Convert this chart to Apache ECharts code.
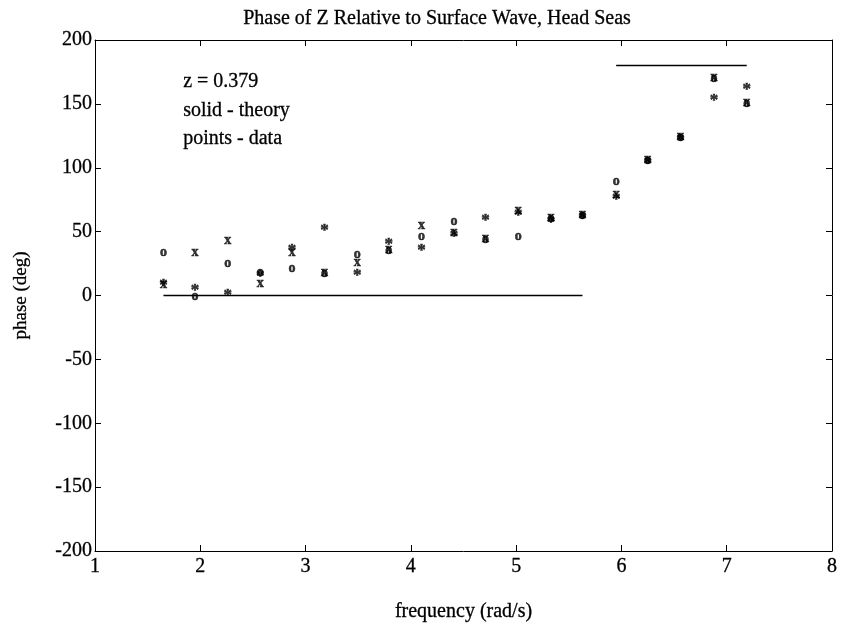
<!DOCTYPE html>
<html>
<head>
<meta charset="utf-8">
<script src="https://cdn.jsdelivr.net/npm/echarts@6/dist/echarts.min.js"></script>
<style>
html, body { margin: 0; padding: 0; background: #fff; }
#chart { width: 842px; height: 631px; }
</style>
</head>
<body>
<div id="chart"></div>
<script>
// frequencies of the test runs (rad/s)
const freq = [1.65, 1.95, 2.26, 2.57, 2.87, 3.18, 3.49, 3.79, 4.10, 4.41, 4.71, 5.02, 5.33, 5.63, 5.95, 6.25, 6.56, 6.88, 7.19]
// measured phase, three runs, marked o, x and *
const phaseO = [34, -1, 25, 18, 21, 17, 32, 35, 46, 58, 44, 46, 60, 63, 89, 106, 124, 170, 150]
const phaseX = [8, 33, 42, 9, 33, 17, 25, 35, 54, 49, 44, 66, 60, 63, 78, 106, 124, 170, 150]
const phaseS = [11, 7, 3, 18, 38, 54, 19, 43, 38, 49, 62, 66, 60, 63, 78, 106, 124, 156, 164]
// theory
const theory = [0, 0, 0, 0, 0, 0, 0, 0, 0, 0, 0, 0, 0, 0, 180, 180, 180, 180, 180]
const xTicks = [1, 2, 3, 4, 5, 6, 7, 8]
const yTicks = [-200, -150, -100, -50, 0, 50, 100, 150, 200]

const font = "Liberation Serif"
const ink = { color: "#000", textBorderColor: "#000", textBorderWidth: 0.3 }

// split the theory curve where it jumps, no vertical line in the plot
let theoryLine = []
for (let i = 0; i < freq.length; i++) {
    if (i > 0 && Math.abs(theory[i] - theory[i - 1]) > 90) theoryLine.push([freq[i], null])
    theoryLine.push([freq[i], theory[i]])
}

function marks(name, vals, ch, dy) {
    return {
        name: name,
        type: "scatter",
        data: freq.map((f, i) => [f, vals[i]]),
        symbolSize: 1,
        itemStyle: { color: "rgba(0,0,0,0)" },
        label: {
            show: true,
            position: "inside",
            formatter: ch,
            offset: [0, dy],
            fontFamily: font,
            fontWeight: "bold",
            fontSize: ch === "*" ? 17 : 14,
            color: "#000",
            textBorderColor: "#000",
            textBorderWidth: 0.5
        },
        silent: true
    }
}

function note(text, top) {
    return { type: "text", left: 183, top: top, style: { text: text, font: "20px Liberation Serif", fill: "#000", stroke: "#000", lineWidth: 0.3 } }
}

const myChart = echarts.init(document.getElementById("chart"))
myChart.setOption({
    animation: false,
    title: {
        text: "Phase of Z Relative to Surface Wave, Head Seas",
        left: 432,
        top: 4,
        textAlign: "center",
        textStyle: Object.assign({ fontFamily: font, fontWeight: "normal", fontSize: 20 }, ink)
    },
    graphic: [
        note("z = 0.379", 72),
        note("solid - theory", 101),
        note("points - data", 129)
    ],
    grid: { left: 95, right: 10, top: 40, bottom: 80 },
    xAxis: [{
        type: "value",
        min: xTicks[0],
        max: xTicks[xTicks.length - 1],
        interval: 1,
        name: "frequency (rad/s)",
        nameLocation: "middle",
        nameGap: 51,
        nameTextStyle: Object.assign({ fontFamily: font, fontSize: 20 }, ink),
        axisLine: { show: true, onZero: false, lineStyle: { color: "#000" } },
        axisTick: { inside: true, length: 6, lineStyle: { color: "#000" } },
        axisLabel: Object.assign({ fontFamily: font, fontSize: 20, margin: 6 }, ink),
        splitLine: { show: false }
    }, {
        type: "value",
        position: "top",
        min: xTicks[0],
        max: xTicks[xTicks.length - 1],
        interval: 1,
        axisLine: { show: true, onZero: false, lineStyle: { color: "#000" } },
        axisTick: { inside: true, length: 6, lineStyle: { color: "#000" } },
        axisLabel: { show: false },
        splitLine: { show: false }
    }],
    yAxis: [{
        type: "value",
        min: yTicks[0],
        max: yTicks[yTicks.length - 1],
        interval: 50,
        name: "phase (deg)",
        nameLocation: "middle",
        nameGap: 64,
        nameTextStyle: Object.assign({ fontFamily: font, fontSize: 19 }, ink),
        axisLine: { show: true, onZero: false, lineStyle: { color: "#000" } },
        axisTick: { inside: true, length: 6, lineStyle: { color: "#000" } },
        axisLabel: Object.assign({ fontFamily: font, fontSize: 20, margin: 3 }, ink),
        splitLine: { show: false }
    }, {
        type: "value",
        position: "right",
        min: yTicks[0],
        max: yTicks[yTicks.length - 1],
        interval: 50,
        axisLine: { show: true, onZero: false, lineStyle: { color: "#000" } },
        axisTick: { inside: true, length: 6, lineStyle: { color: "#000" } },
        axisLabel: { show: false },
        splitLine: { show: false }
    }],
    series: [
        {
            name: "theory",
            type: "line",
            data: theoryLine,
            showSymbol: false,
            connectNulls: false,
            lineStyle: { color: "#000", width: 1.5 },
            silent: true
        },
        marks("o", phaseO, "o", 0),
        marks("x", phaseX, "x", -1),
        marks("*", phaseS, "*", 4)
    ]
})
</script>
</body>
</html>
